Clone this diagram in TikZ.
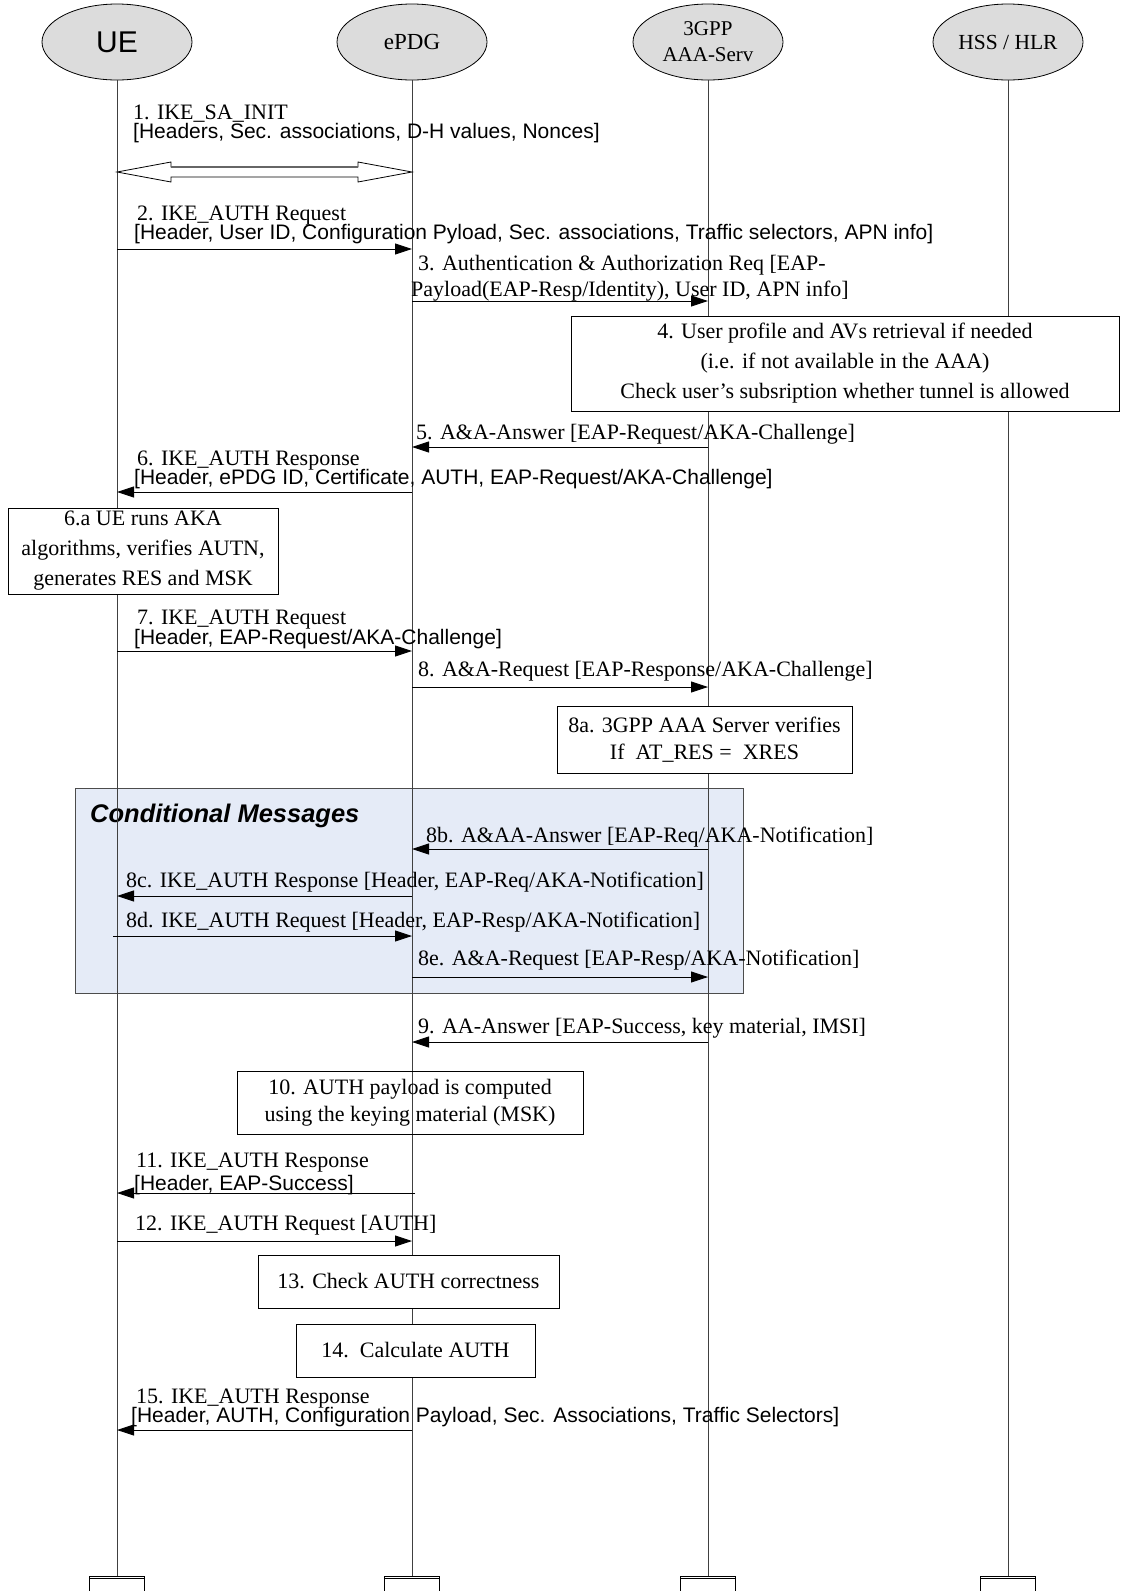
\documentclass[tikz,border=0pt]{standalone}
\usepackage{fontspec}
\setmainfont{Liberation Serif}
\setsansfont{Liberation Sans}
\usetikzlibrary{arrows.meta,shapes.geometric,calc}
\definecolor{headfill}{HTML}{DCDCDC}
\definecolor{condfill}{HTML}{E5EBF7}
\definecolor{lifecol}{HTML}{404040}
\begin{document}
\begin{tikzpicture}[x=1pt,y=-1pt,
  head/.style={ellipse,draw,fill=headfill,minimum width=150pt,minimum height=76pt,inner sep=0pt,line width=0.8pt},
  endbox/.style={draw,minimum width=55pt,minimum height=26pt,inner sep=0pt,line width=0.8pt,anchor=north},
  life/.style={draw=lifecol,line width=0.9pt},
  msg/.style={-{Triangle[length=17pt,width=11pt]},line width=0.9pt},
  lbl/.style={anchor=base west,inner sep=0pt,font=\fontsize{22}{26}\selectfont},
  slbl/.style={anchor=base west,inner sep=0pt,font=\sffamily\fontsize{21}{25}\selectfont},
  stepbox/.style={draw,fill=white,line width=0.8pt,align=center,inner sep=0pt,font=\fontsize{22}{30}\selectfont},
  stepboxb/.style={stepbox,font=\fontsize{22}{27}\selectfont}
]
\useasboundingbox (0,0) rectangle (1135,1591);
\fill[white] (0,0) rectangle (1135,1591);

% conditional region
\node[draw=black!70,fill=condfill,line width=0.8pt,minimum width=668pt,minimum height=205pt,inner sep=0pt] (cond) at (409,890.5) {};
\node[anchor=base west,inner sep=0pt,font=\sffamily\bfseries\itshape\fontsize{25.5}{30}\selectfont] (condt) at (90,822) {Conditional Messages};

% heads
\node[head,font=\sffamily\fontsize{30}{34}\selectfont] (ue) at (117,42) {UE};
\node[head,font=\fontsize{23}{26}\selectfont] (epdg) at (412,42) {ePDG};
\node[head,align=center,font=\fontsize{21}{26}\selectfont] (aaa) at (708,42) {3GPP\\AAA-Serv};
\node[head,font=\fontsize{21.5}{26}\selectfont] (hss) at (1008,42) {HSS / HLR};

% end boxes
\foreach \n/\x in {ueE/117,epdgE/412,aaaE/708,hssE/1008}{
  \node[endbox] (\n) at (\x,1576) {};
  \draw[line width=0.8pt] ($(\n.north west)+(0,2)$) -- ($(\n.north east)+(0,2)$);
}

% lifelines
\draw[life] (ue.south) -- (ueE.north);
\draw[life] (epdg.south) -- (epdgE.north);
\draw[life] (aaa.south) -- (aaaE.north);
\draw[life] (hss.south) -- (hssE.north);

% message rows
\coordinate (r1) at (0,172);
\coordinate (r2) at (0,249);
\coordinate (r3) at (0,301);
\coordinate (r5) at (0,447);
\coordinate (r6) at (0,492);
\coordinate (r7) at (0,651);
\coordinate (r8) at (0,687);
\coordinate (r8b) at (0,849);
\coordinate (r8c) at (0,896);
\coordinate (r8d) at (0,936);
\coordinate (r8e) at (0,977);
\coordinate (r9) at (0,1042);
\coordinate (r11) at (0,1193);
\coordinate (r12) at (0,1241);
\coordinate (r15) at (0,1430);

% 1. hollow double arrow
\coordinate (a1l) at (ue |- r1);
\coordinate (a1r) at (epdg |- r1);
\draw[line width=0.8pt,fill=white] (a1l) -- ++(54,-10) -- ++(0,5) -- ($(a1r)+(-54,-5)$) -- ++(0,-5) -- (a1r) -- ++(-54,10) -- ++(0,-5) -- ($(a1l)+(54,5)$) -- ++(0,5) -- cycle;
\draw[black!60,line width=1.4pt] ($(a1l)+(54,-5)$) -- ($(a1r)+(-54,-5)$);

% arrows
\draw[msg] (ue |- r2) -- (epdg |- r2);
\draw[msg] (epdg |- r3) -- (aaa |- r3);
\draw[msg] (aaa |- r5) -- (epdg |- r5);
\draw[msg] (epdg |- r6) -- (ue |- r6);
\draw[msg] (ue |- r7) -- (epdg |- r7);
\draw[msg] (epdg |- r8) -- (aaa |- r8);
\draw[msg] (aaa |- r8b) -- (epdg |- r8b);
\draw[msg] (epdg |- r8c) -- (ue |- r8c);
\draw[msg] ($(ue |- r8d)+(-4,0)$) -- (epdg |- r8d);
\draw[msg] (epdg |- r8e) -- (aaa |- r8e);
\draw[msg] (aaa |- r9) -- (epdg |- r9);
\draw[msg] ($(epdg |- r11)+(3,0)$) -- (ue |- r11);
\draw[msg] (ue |- r12) -- (epdg |- r12);
\draw[msg] (epdg |- r15) -- (ue |- r15);

% labels
\node[lbl] (t1a) at (133,119) {1. IKE\_SA\_INIT};
\node[slbl] (t1b) at (133,138) {[Headers, Sec. associations, D-H values, Nonces]};
\node[lbl] (t2a) at (137,220) {2. IKE\_AUTH Request};
\node[slbl] (t2b) at (134,239) {[Header, User ID, Configuration Pyload, Sec. associations, Traffic selectors, APN info]};
\node[lbl] (t3a) at (418,270) {3. Authentication \& Authorization Req [EAP-};
\node[lbl] (t3b) at (411,296) {Payload(EAP-Resp/Identity), User ID, APN info]};
\node[lbl] (t5) at (416,439) {5. A\&A-Answer [EAP-Request/AKA-Challenge]};
\node[lbl] (t6a) at (137,465) {6. IKE\_AUTH Response};
\node[slbl] (t6b) at (134,484) {[Header, ePDG ID, Certificate, AUTH, EAP-Request/AKA-Challenge]};
\node[lbl] (t7a) at (137,624) {7. IKE\_AUTH Request};
\node[slbl] (t7b) at (134,644) {[Header, EAP-Request/AKA-Challenge]};
\node[lbl] (t8) at (418,676) {8. A\&A-Request [EAP-Response/AKA-Challenge]};
\node[lbl] (t8b) at (426,842) {8b. A\&AA-Answer [EAP-Req/AKA-Notification]};
\node[lbl] (t8c) at (126,887) {8c. IKE\_AUTH Response [Header, EAP-Req/AKA-Notification]};
\node[lbl] (t8d) at (126,927) {8d. IKE\_AUTH Request [Header, EAP-Resp/AKA-Notification]};
\node[lbl] (t8e) at (418,965) {8e. A\&A-Request [EAP-Resp/AKA-Notification]};
\node[lbl] (t9) at (418,1033) {9. AA-Answer [EAP-Success, key material, IMSI]};
\node[lbl] (t11a) at (136,1167) {11. IKE\_AUTH Response};
\node[slbl] (t11b) at (134,1190) {[Header, EAP-Success]};
\node[lbl] (t12) at (135,1230) {12. IKE\_AUTH Request [AUTH]};
\node[lbl] (t15a) at (136,1403) {15. IKE\_AUTH Response};
\node[slbl] (t15b) at (131,1422) {[Header, AUTH, Configuration Payload, Sec. Associations, Traffic Selectors]};

% step boxes
\node[stepbox,minimum width=548pt,minimum height=95pt] (b4) at (845,363.5) {4. User profile and AVs retrieval if needed\\(i.e. if not available in the AAA)\\Check user’s subsription whether tunnel is allowed};
\node[stepbox,minimum width=270pt,minimum height=86pt] (b6a) at (143,551) {6.a UE runs AKA\\algorithms, verifies AUTN,\\generates RES and MSK};
\node[stepboxb,minimum width=295pt,minimum height=67pt] (b8a) at (704.5,739.5) {8a. 3GPP AAA Server verifies\\If\ \ AT\_RES =\ \ XRES};
\node[stepboxb,fill=none,minimum width=346pt,minimum height=63pt] (b10) at (410,1102.5) {10. AUTH payload is computed\\using the keying material (MSK)};
\node[stepbox,minimum width=301pt,minimum height=53pt] (b13) at (408.5,1281.5) {13. Check AUTH correctness};
\node[stepbox,minimum width=239pt,minimum height=53pt] (b14) at (415.5,1350.5) {14.\ \ Calculate AUTH};
\end{tikzpicture}
\end{document}
